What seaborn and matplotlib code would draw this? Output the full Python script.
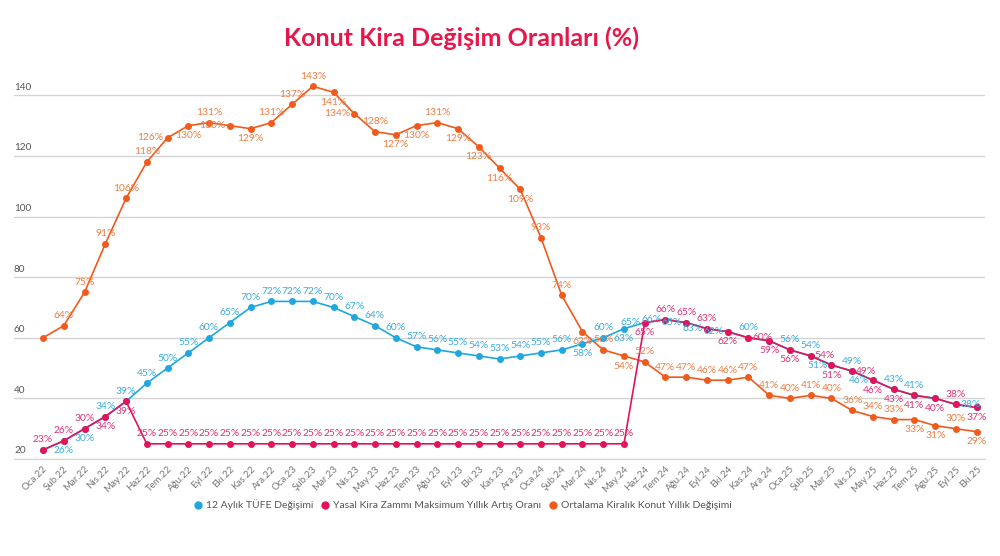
import numpy as np
import pandas as pd
import seaborn as sns
import matplotlib.pyplot as plt
from matplotlib.lines import Line2D
import matplotlib.transforms as mtransforms

aylar = ['Oca.22', 'Şub.22', 'Mar.22', 'Nis.22', 'May.22', 'Haz.22', 'Tem.22', 'Ağu.22', 'Eyl.22', 'Eki.22', 'Kas.22', 'Ara.22',
         'Oca.23', 'Şub.23', 'Mar.23', 'Nis.23', 'May.23', 'Haz.23', 'Tem.23', 'Ağu.23', 'Eyl.23', 'Eki.23', 'Kas.23', 'Ara.23',
         'Oca.24', 'Şub.24', 'Mar.24', 'Nis.24', 'May.24', 'Haz.24', 'Tem.24', 'Ağu.24', 'Eyl.24', 'Eki.24', 'Kas.24', 'Ara.24',
         'Oca.25', 'Şub.25', 'Mar.25', 'Nis.25', 'May.25', 'Haz.25', 'Tem.25', 'Agu.25', 'Eyl.25', 'Eki.25']

tufe = [23, 26, 30, 34, 39, 45, 50, 55, 60, 65, 70, 72,
        72, 72, 70, 67, 64, 60, 57, 56, 55, 54, 53, 54,
        55, 56, 58, 60, 63, 65, 66, 65, 63, 62, 60, 59,
        56, 54, 51, 49, 46, 43, 41, 40, 38, 37]

yasal = [23, 26, 30, 34, 39, 25, 25, 25, 25, 25, 25, 25,
         25, 25, 25, 25, 25, 25, 25, 25, 25, 25, 25, 25,
         25, 25, 25, 25, 25, 65, 66, 65, 63, 62, 60, 59,
         56, 54, 51, 49, 46, 43, 41, 40, 38, 37]

kiralik = [60, 64, 75, 91, 106, 118, 126, 130, 131, 130, 129, 131,
           137, 143, 141, 134, 128, 127, 130, 131, 129, 123, 116, 109,
           93, 74, 62, 56, 54, 52, 47, 47, 46, 46, 47, 41,
           40, 41, 40, 36, 34, 33, 33, 31, 30, 29]

seri_adlari = ['12 Aylık TÜFE Değişimi', 'Yasal Kira Zammı Maksimum Yıllık Artış Oranı',
               'Ortalama Kiralık Konut Yıllık Değişimi']

# label placement per point (one char per month): a=above b=below l=left r=right -=none
yer_tufe = '-bbaaaaaaaaa' + 'aaaaaaaaaaaa' + 'aababllllla-' + 'aalalaa-r-'
yer_yasal = 'aaabbaaaaaaa' + 'aaaaaaaaaaaa' + 'aaaaabaaabrb' + 'brbrbbbbab'
yer_kiralik = '-aaaaalbalba' + 'aablabbabbbb' + 'aababaaaaaaa' + 'aaaaaabbab'

renkler = {seri_adlari[0]: '#1ea7e0', seri_adlari[1]: '#e3135a', seri_adlari[2]: '#f05a1c'}
etiket_renk = {seri_adlari[0]: '#3aaee0', seri_adlari[1]: '#e0337a', seri_adlari[2]: '#ee7f45'}

df = pd.DataFrame({
    'idx': list(range(len(aylar))) * 3,
    'deger': tufe + yasal + kiralik,
    'seri': [seri_adlari[0]] * len(aylar) + [seri_adlari[1]] * len(aylar) + [seri_adlari[2]] * len(aylar),
})

sns.set_style('white')
plt.rcParams['font.family'] = ['Lato', 'DejaVu Sans']

fig = plt.figure(figsize=(10, 5.56), dpi=100)
ax = fig.add_axes([0.014, 0.1745, 0.971, 0.7085])

sira = [seri_adlari[2], seri_adlari[0], seri_adlari[1]]
for z, s in enumerate(sira):
    sns.lineplot(data=df[df.seri == s], x='idx', y='deger', color=renkler[s], marker='o',
                 markersize=5, markeredgewidth=0, linewidth=1.2, ax=ax, zorder=3 + z, legend=False)

ofs = {'a': ((0, 4), 'center', 'bottom'), 'b': ((0, -4), 'center', 'top'),
       'l': ((-3, 0), 'right', 'center'), 'r': ((3, 0), 'left', 'center')}
for s, vals, yer in [(seri_adlari[2], kiralik, yer_kiralik), (seri_adlari[0], tufe, yer_tufe),
                     (seri_adlari[1], yasal, yer_yasal)]:
    for i, v in enumerate(vals):
        k = yer[i]
        if k == '-':
            continue
        o, ha, va = ofs[k]
        ax.annotate(f'{v}%', (i, v), xytext=o, textcoords='offset points', ha=ha, va=va,
                    fontsize=7.4, color=etiket_renk[s], zorder=10)

ax.set_xlim(-1.4, 45.4)
ax.set_ylim(20, 150)
ax.set_yticks([20, 40, 60, 80, 100, 120, 140])
ax.yaxis.grid(True, color='#d4d4d4', linewidth=1)
ax.set_yticklabels([])
ax.tick_params(axis='y', length=0)
trans = mtransforms.blended_transform_factory(ax.transAxes, ax.transData)
for t in [20, 40, 60, 80, 100, 120, 140]:
    ax.text(0.0, t + 1.2, str(t), transform=trans, ha='left', va='bottom', fontsize=7.2, color='#555555')

ax.set_xticks(range(len(aylar)))
ax.set_xticklabels(aylar, rotation=45, ha='right', rotation_mode='anchor', fontsize=7, color='#777777')
ax.tick_params(axis='x', length=0, pad=4)
ax.set_xlabel('')
ax.set_ylabel('')
for sp in ['top', 'right', 'left']:
    ax.spines[sp].set_visible(False)
ax.spines['bottom'].set_color('#d4d4d4')

fig.text(0.462, 0.932, 'Konut Kira Değişim Oranları (%)', ha='center', va='center',
         fontsize=18, fontweight='bold', color='#e8174b')

tutamac = [Line2D([0], [0], marker='o', color='w', markerfacecolor=renkler[s], markersize=7, label=s)
           for s in seri_adlari]
fig.legend(handles=tutamac, loc='center', bbox_to_anchor=(0.462, 0.092), ncol=3, frameon=False,
           fontsize=7.5, labelcolor='#555555', handletextpad=0.3, columnspacing=0.6, handlelength=1)

fig.savefig('out.png', dpi=100)
